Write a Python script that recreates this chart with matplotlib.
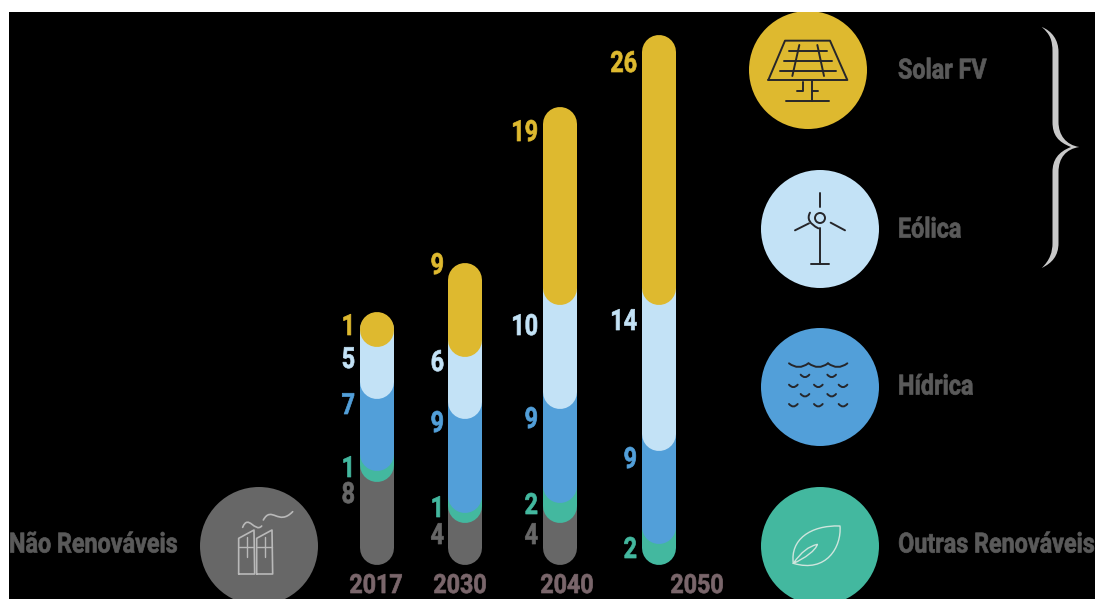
import matplotlib
matplotlib.use("Agg")
import matplotlib.pyplot as plt
from matplotlib.patches import Circle, PathPatch, Rectangle
from matplotlib.path import Path
from matplotlib.patheffects import AbstractPathEffect
from matplotlib.transforms import Affine2D

# Installed capacity by source and year (labels beside each stacked column)
years = ["2017", "2030", "2040", "2050"]
nao_renovaveis = [8, 4, 4, 0]
outras_renovaveis = [1, 1, 2, 2]
hidrica = [7, 9, 9, 9]
eolica = [5, 6, 10, 14]
solar_fv = [1, 9, 19, 26]

BLACK = "#000000"
GOLD = "#DEB92F"
SKY = "#C3E2F6"
BLUE = "#529FD9"
TEAL = "#43B89F"
GREY = "#676767"
TEXT = "#5A5A5A"
YEAR = "#7A666B"
INK = "#26262A"
PALE = "#CFE5DD"

W, H = 1095, 599
FONT = ["Roboto", "DejaVu Sans"]
PX_PER_UNIT = 10.4
BASE_PX = 565
BAR_W = 34

stack = [
    (nao_renovaveis, GREY),
    (outras_renovaveis, TEAL),
    (hidrica, BLUE),
    (eolica, SKY),
    (solar_fv, GOLD),
]
bar_centres = [377, 465, 560, 659]
year_centres = [376, 460, 567, 697]
label_right = [355, 444, 538, 637]
# vertical label position per column, bottom of the stack upward
label_y = [
    [493, 467, 404, 358, 325],
    [534, 507, 422, 361, 264],
    [534, 504, 418, 325, 131],
    [None, 548, 458, 320, 62],
]


class Condensed(AbstractPathEffect):
    """Narrow glyphs horizontally about a pixel column and thicken them."""

    def __init__(self, x0, sx, weight=0.5):
        super().__init__()
        self.x0, self.sx, self.weight = x0, sx, weight

    def draw_path(self, renderer, gc, tpath, affine, rgbFace=None):
        squeeze = Affine2D().translate(-self.x0, 0).scale(self.sx, 1).translate(self.x0, 0)
        gc0 = renderer.new_gc()
        gc0.copy_properties(gc)
        gc0.set_linewidth(self.weight)
        gc0.set_foreground(rgbFace)
        renderer.draw_path(gc0, tpath, affine + squeeze, rgbFace)
        gc0.restore()


def label(x, y, s, colour, ha, size, sx):
    t = px.text(x, y, s, color=colour, ha=ha, va="center", fontsize=size,
                fontweight="bold", family=FONT)
    t.set_path_effects([Condensed(x, sx)])
    return t


fig = plt.figure(figsize=(W / 100, H / 100), dpi=100, facecolor="white")

# Pixel-addressed layer for the backdrop, icons and text
px = fig.add_axes([0, 0, 1, 1], zorder=3)
px.set_xlim(0, W)
px.set_ylim(H, 0)
px.axis("off")
px.patch.set_alpha(0)

# Value layer: one unit on y is PX_PER_UNIT pixels above the common baseline
ax = fig.add_axes([0, 0, 1, 1], zorder=2)
ax.set_xlim(0, W)
ax.set_ylim((BASE_PX - H) / PX_PER_UNIT, BASE_PX / PX_PER_UNIT)
ax.axis("off")

bg = fig.add_axes([0, 0, 1, 1], zorder=1)
bg.set_xlim(0, W)
bg.set_ylim(H, 0)
bg.axis("off")
bg.add_patch(Rectangle((9, 12), W - 9, H - 12, color=BLACK, lw=0))

lw_pt = BAR_W * 72 / 100
r_units = BAR_W / 2 / PX_PER_UNIT
for col, xc in enumerate(bar_centres):
    cum = 0
    active = [i for i, (vals, _) in enumerate(stack) if vals[col] > 0]
    for i in active:
        vals, colour = stack[i]
        v = vals[col]
        bottom = cum + r_units
        if i == active[-1]:
            top = max(cum + v - r_units, bottom + 0.01)
        else:
            top = cum + v + r_units
        ax.plot([xc, xc], [bottom, top], color=colour, lw=lw_pt,
                solid_capstyle="round", zorder=2 + i)
        cum += v
        label(label_right[col], label_y[col][i] + 2, str(v), colour, "right", 21, 0.8)

for xc, y in zip(year_centres, years):
    label(xc, 586, y, YEAR, "center", 19, 0.88)

# Legend discs and names
discs = [
    (808, 70, GOLD),
    (820, 229, SKY),
    (820, 387, BLUE),
    (820, 546, TEAL),
    (259, 546, GREY),
]
for cx, cy, c in discs:
    px.add_patch(Circle((cx, cy), 59, color=c, lw=0, zorder=1))
label(898, 71, "Solar FV", TEXT, "left", 20, 0.84)
label(898, 230, "Eólica", TEXT, "left", 20, 0.84)
label(898, 387, "Hídrica", TEXT, "left", 20, 0.84)
label(1094, 545, "Outras Renováveis", TEXT, "right", 20, 0.84)
label(9, 545, "Não Renováveis", TEXT, "left", 20, 0.84)


def stroke(verts, color=INK, lw=1.4, codes=None, ox=740, oy=0):
    pts = [(x / 3 + ox, y / 3 + oy) for x, y in verts]
    if codes is None:
        codes = [Path.MOVETO] + [Path.LINETO] * (len(pts) - 1)
    px.add_patch(PathPatch(Path(pts, codes), fc="none", ec=color, lw=lw,
                           capstyle="round", joinstyle="round", zorder=2))


# Solar panel
stroke([(85, 240), (135, 122), (270, 122), (322, 240), (85, 240)])
for y, a, b in [(152, 148, 262), (182, 133, 275), (212, 120, 288)]:
    stroke([(a, y), (b, y)])
stroke([(178, 135), (157, 228)])
stroke([(232, 135), (252, 228)])
stroke([(215, 242), (215, 303)])
stroke([(138, 303), (266, 303)])
stroke([(190, 245), (190, 272), (172, 272)])
stroke([(215, 272), (234, 272)])

# Wind turbine
px.add_patch(Circle((240 / 3 + 740, 654 / 3), 5, fc="none", ec=INK, lw=1.4, zorder=2))
stroke([(240, 578), (240, 620)])
stroke([(272, 668), (315, 691)])
stroke([(165, 691), (207, 670)])
stroke([(240, 683), (240, 792)])
stroke([(213, 792), (268, 792)])
stroke([(210, 638), (195, 665), (235, 685)],
       codes=[Path.MOVETO, Path.CURVE3, Path.CURVE3])

# Water
C3 = [Path.MOVETO, Path.CURVE3, Path.CURVE3]
for a in (147, 206, 264):
    stroke([(a, 160), (a + 29, 182), (a + 58, 160)], codes=C3, oy=310)
for y, xs in [(197, (182, 262)), (227, (147, 222, 296)),
              (255, (182, 262)), (285, (147, 222, 296))]:
    for a in xs:
        stroke([(a, y - 3), (a + 13, y + 12), (a + 26, y - 3)], codes=C3, oy=310)

# Leaf
C4 = [Path.MOVETO, Path.CURVE4, Path.CURVE4, Path.CURVE4,
      Path.CURVE4, Path.CURVE4, Path.CURVE4]
stroke([(160, 760), (150, 690), (210, 645), (300, 648),
        (305, 710), (260, 790), (160, 760)], color=PALE, lw=1.0, codes=C4, oy=310)
stroke([(160, 760), (185, 725), (205, 710), (232, 703),
        (228, 720), (195, 745), (160, 760)], color=PALE, lw=1.0, codes=C4, oy=310)

# Factory
FACT = "#B9B9B9"
for x0 in (716, 770):
    stroke([(x0, 312), (x0, 205), (x0 + 46, 180), (x0 + 48, 312), (x0, 312)],
           color=FACT, lw=1.2, ox=0, oy=470)
    stroke([(x0, 232), (x0 + 46, 232)], color=FACT, lw=1.0, ox=0, oy=470)
    stroke([(x0 + 24, 200), (x0 + 24, 262)], color=FACT, lw=1.0, ox=0, oy=470)
stroke([(728, 172), (745, 130), (765, 190), (785, 168)], color=FACT, lw=1.2, ox=0, oy=470,
       codes=[Path.MOVETO, Path.CURVE4, Path.CURVE4, Path.CURVE4])
stroke([(790, 150), (815, 105), (835, 170), (878, 125)], color=FACT, lw=1.2, ox=0, oy=470,
       codes=[Path.MOVETO, Path.CURVE4, Path.CURVE4, Path.CURVE4])

# Brace grouping solar and wind
M, L, C = Path.MOVETO, Path.LINETO, Path.CURVE4
brace = [
    ((1041.7, 27), M),
    ((1052, 31), C), ((1058.5, 40), C), ((1058.5, 52), C),
    ((1058.5, 122), L),
    ((1058.5, 135), C), ((1066, 145), C), ((1079.3, 147), C),
    ((1066, 149), C), ((1058.5, 158), C), ((1058.5, 172), C),
    ((1058.5, 243), L),
    ((1058.5, 256), C), ((1052, 263), C), ((1041.7, 268), C),
    ((1050, 260), C), ((1052.5, 252), C), ((1052.5, 243), C),
    ((1052.5, 172), L),
    ((1052.5, 160), C), ((1058, 152), C), ((1071, 147), C),
    ((1058, 142), C), ((1052.5, 135), C), ((1052.5, 122), C),
    ((1052.5, 52), L),
    ((1052.5, 40), C), ((1050, 34), C), ((1041.7, 27), C),
]
px.add_patch(PathPatch(Path([p for p, _ in brace], [c for _, c in brace]),
                       fc="#C9C9C9", ec="none", zorder=2))

# Paper margin over the discs at the top edge
px.add_patch(Rectangle((0, 0), W, 12, color="white", lw=0, zorder=5))
px.add_patch(Rectangle((0, 0), 9, H, color="white", lw=0, zorder=5))

fig.savefig("out.png", dpi=100, facecolor="white")
